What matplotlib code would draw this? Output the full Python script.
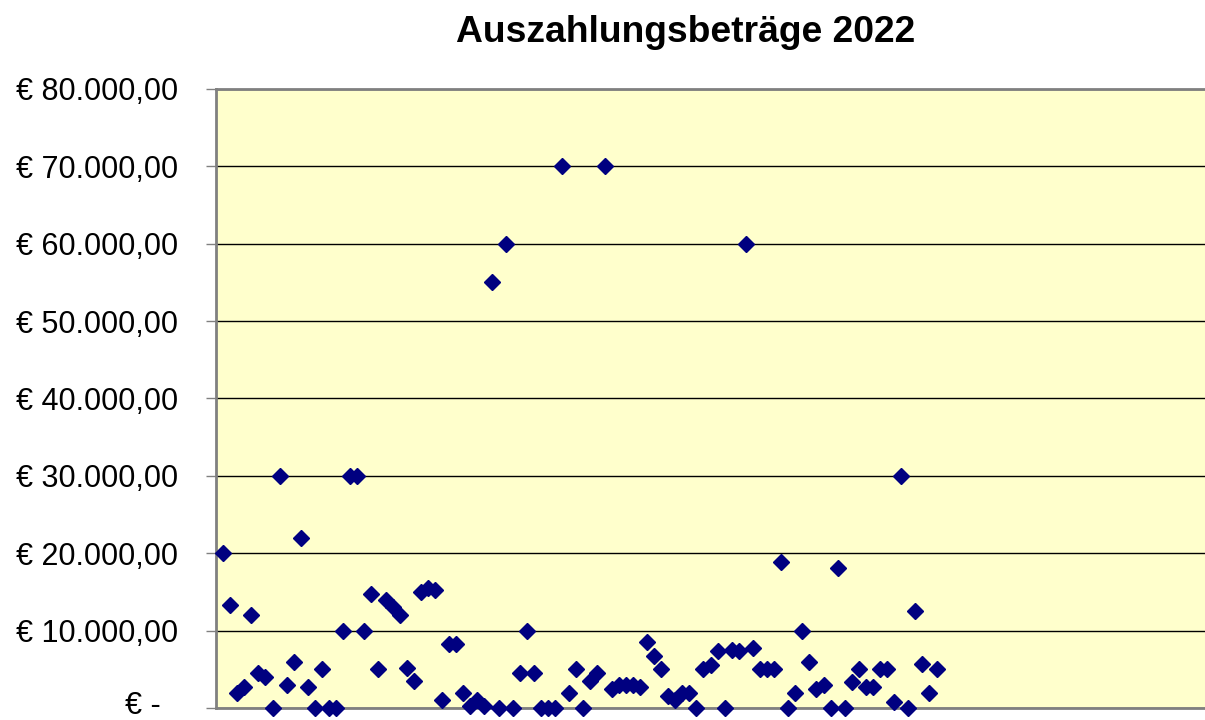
import matplotlib.pyplot as plt
import matplotlib.transforms as mtransforms
from matplotlib.ticker import FixedLocator

plt.rcParams["font.family"] = ["Liberation Sans", "DejaVu Sans"]

# Auszahlungsbeträge in Reihenfolge (Index 1..102)
betraege = [
    20000, 13300, 2000, 2700, 12000, 4500, 4000, 0, 30000, 3000,
    6000, 22000, 2700, 0, 5000, 0, 0, 10000, 30000, 30000,
    10000, 14700, 5000, 14000, 13000, 12000, 5200, 3500, 15000, 15500,
    15300, 1000, 8300, 8300, 2000, 300, 1000, 300, 55000, 0,
    60000, 0, 4500, 10000, 4500, 0, 0, 0, 70000, 2000,
    5000, 0, 3500, 4500, 70000, 2500, 3000, 3000, 3000, 2700,
    8500, 6700, 5000, 1500, 1000, 2000, 2000, 0, 5000, 5500,
    7400, 0, 7500, 7400, 60000, 7700, 5000, 5000, 5000, 18900,
    0, 2000, 10000, 6000, 2500, 3000, 0, 18100, 0, 3400,
    5000, 2700, 2700, 5000, 5000, 800, 30000, 0, 12500, 5700,
    2000, 5000,
]
nummer = list(range(1, len(betraege) + 1))

y_ticks = [0, 10000, 20000, 30000, 40000, 50000, 60000, 70000, 80000]
y_labels = ["€ -  ", "€ 10.000,00", "€ 20.000,00", "€ 30.000,00", "€ 40.000,00",
            "€ 50.000,00", "€ 60.000,00", "€ 70.000,00", "€ 80.000,00"]

fig = plt.figure(figsize=(12.05, 7.2), dpi=100)
ax = fig.add_axes([216 / 1205, 12 / 720, 1 - 216 / 1205, 619 / 720])
ax.set_facecolor("#FFFFCC")

ax.plot(nummer, betraege, linestyle="none", marker="D", markersize=8.3,
        color="#000080", clip_on=False, zorder=3)

ax.set_xlim(0, 140)
ax.set_ylim(0, 80000)
ax.yaxis.set_major_locator(FixedLocator(y_ticks))
ax.set_yticklabels(y_labels)
ax.set_xticks([])
ax.grid(axis="y", color="black", linewidth=1.0, zorder=1)
ax.set_axisbelow(True)

ax.tick_params(axis="y", length=7.5, width=1, color="#808080", pad=20, labelsize=22)
for side in ["left", "bottom", "top"]:
    ax.spines[side].set_color("#808080")
    ax.spines[side].set_linewidth(2)
ax.spines["right"].set_visible(False)

# unterstes Label etwas anheben, damit es nicht abgeschnitten wird
null_label = ax.get_yticklabels()[0]
null_label.set_transform(null_label.get_transform()
                         + mtransforms.ScaledTranslation(0, 4 / 72, fig.dpi_scale_trans))

fig.text(686 / 1205, 1 - 32 / 720, "Auszahlungsbeträge 2022", ha="center", va="center",
         fontsize=26.8, fontweight="bold")

fig.savefig("out.png", dpi=100)
